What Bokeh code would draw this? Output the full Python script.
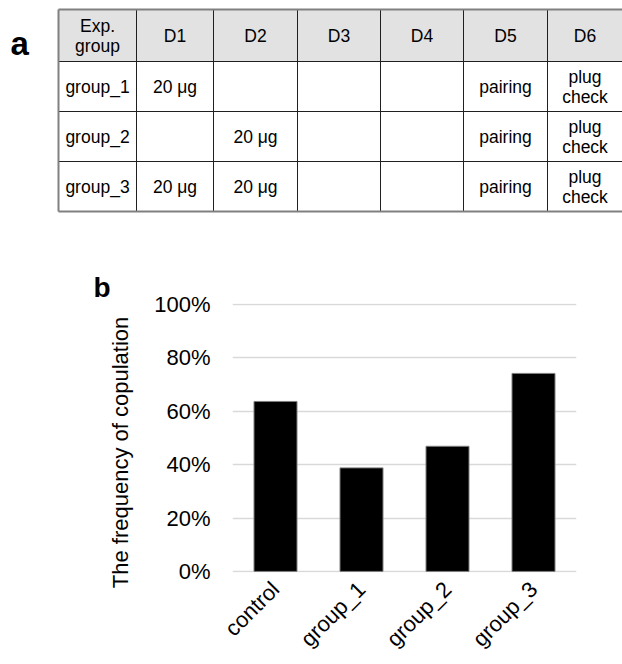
from math import pi
import numpy as np
from bokeh.plotting import figure
from bokeh.models import (Range1d, ColumnDataSource, FactorRange, FixedTicker,
                          NumeralTickFormatter, Label)
from bokeh.core.properties import value
from bokeh.embed import file_html
from bokeh.resources import INLINE

# ---------------- data ----------------
table_headers = ["Exp.\ngroup", "D1", "D2", "D3", "D4", "D5", "D6"]
table_groups = ["group_1", "group_2", "group_3"]
d1 = ["20 μg", "", "20 μg"]
d2 = ["", "20 μg", "20 μg"]
d3 = ["", "", ""]
d4 = ["", "", ""]
d5 = ["pairing", "pairing", "pairing"]
d6 = ["plug\ncheck", "plug\ncheck", "plug\ncheck"]

categories = ["control", "group_1", "group_2", "group_3"]
frequency = [0.637, 0.388, 0.469, 0.742]
y_ticks = [0, 0.2, 0.4, 0.6, 0.8, 1.0]

FONT = "Liberation Sans"
W = 622

# ---------------- table (panel a) ----------------
TH = 233
col_w = [78, 77, 84, 83, 83, 84, 75]
row_h = [52, 50, 50, 50]
tx0, ty0 = 58, 9

xe = tx0 + np.concatenate([[0], np.cumsum(col_w)])
ye = ty0 + np.concatenate([[0], np.cumsum(row_h)])
xc = (xe[:-1] + xe[1:]) / 2
yc = (ye[:-1] + ye[1:]) / 2

p1 = figure(width=W, height=TH, x_range=Range1d(0, W), y_range=Range1d(TH, 0),
            output_backend="svg", toolbar_location=None,
            x_axis_type=None, y_axis_type=None, min_border=0)
p1.grid.visible = False
p1.outline_line_color = None

# header fill
p1.quad(left=xe[:-1], right=xe[1:], top=ye[0], bottom=ye[1],
        fill_color="#e2e2e2", line_color=None)

# inner lines
p1.segment(x0=xe[1:-1], y0=[ye[0]] * (len(xe) - 2), x1=xe[1:-1], y1=[ye[-1]] * (len(xe) - 2),
           line_color="#202020", line_width=1)
p1.segment(x0=[xe[0]] * (len(ye) - 2), y0=ye[1:-1], x1=[xe[-1]] * (len(ye) - 2), y1=ye[1:-1],
           line_color="#202020", line_width=1)
# outer border (top, bottom, left)
p1.segment(x0=[xe[0], xe[0], xe[0]], y0=[ye[0], ye[-1], ye[0]],
           x1=[xe[-1], xe[-1], xe[0]], y1=[ye[0], ye[-1], ye[-1]],
           line_color="#808080", line_width=2)

columns_data = [table_groups, d1, d2, d3, d4, d5, d6]
cell_text, cell_x, cell_y = [], [], []
for j, h in enumerate(table_headers):
    cell_text.append(h); cell_x.append(xc[j]); cell_y.append(yc[0])
for i in range(len(table_groups)):
    for j, col in enumerate(columns_data):
        if col[i]:
            cell_text.append(col[i]); cell_x.append(xc[j]); cell_y.append(yc[i + 1])
src_cells = ColumnDataSource(dict(x=cell_x, y=cell_y, t=cell_text))
p1.text(x="x", y="y", text="t", source=src_cells, text_align="center",
        text_baseline="middle", text_font=value(FONT), text_font_size="17.5px",
        text_color="#000000", text_line_height=1.0)

p1.text(x=[10], y=[43], text=["a"], text_font=value(FONT), text_font_size="33px",
        text_font_style="bold", text_color="#000000", text_baseline="alphabetic")

# ---------------- bar chart (panel b) ----------------
BH = 430
p2 = figure(width=W, height=BH, x_range=FactorRange(factors=categories, range_padding=0),
            y_range=Range1d(-0.004, 1.004), output_backend="svg", toolbar_location=None,
            min_border_left=232, min_border_right=46, min_border_top=70, min_border_bottom=91,
            title="b")
p2.title.text_font = FONT
p2.title.text_font_size = "28px"
p2.title.text_font_style = "bold"
p2.title.text_color = "#000000"
p2.title.align = "left"
p2.title.offset = -139
p2.title.standoff = 2

p2.outline_line_color = None
p2.xgrid.visible = False
p2.ygrid.grid_line_color = "#d9d9d9"
p2.ygrid.grid_line_width = 1.5
p2.ygrid.ticker = FixedTicker(ticks=y_ticks)

bar_src = ColumnDataSource(dict(cat=categories, freq=frequency))
p2.vbar(x="cat", top="freq", width=0.5, source=bar_src,
        fill_color="#000000", line_color="#7f7f7f", line_width=1)

p2.yaxis.ticker = FixedTicker(ticks=y_ticks)
p2.yaxis.formatter = NumeralTickFormatter(format="0%")
p2.yaxis.major_label_text_font = FONT
p2.yaxis.major_label_text_font_size = "22px"
p2.yaxis.major_label_text_color = "#000000"
p2.yaxis.axis_line_color = None
p2.yaxis.major_tick_line_color = None
p2.yaxis.minor_tick_line_color = None
p2.yaxis.major_tick_out = 0
p2.yaxis.major_tick_in = 0
p2.yaxis.major_label_standoff = 22

p2.xaxis.major_label_orientation = pi / 4
p2.xaxis.major_label_text_font = FONT
p2.xaxis.major_label_text_font_size = "22px"
p2.xaxis.major_label_text_color = "#000000"
p2.xaxis.axis_line_color = None
p2.xaxis.major_tick_line_color = None
p2.xaxis.minor_tick_line_color = None
p2.xaxis.major_tick_out = 0
p2.xaxis.major_tick_in = 0
p2.xaxis.major_label_standoff = 13

ylab = Label(x=-6, y=120, x_units="screen", y_units="screen",
             text="The frequency of copulation", angle=pi / 2,
             text_align="center", text_baseline="middle",
             text_font=FONT, text_font_size="22px", text_color="#000000")
p2.add_layout(ylab, "left")

open("out.html", "w").write(file_html([p1, p2], INLINE))
